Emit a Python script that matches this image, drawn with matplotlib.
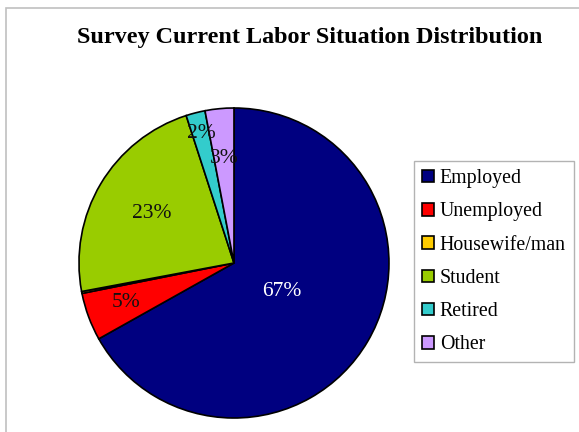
import matplotlib.pyplot as plt
import matplotlib.patches as mpatches
import numpy as np

plt.rcParams['font.family'] = ['Liberation Serif', 'DejaVu Serif']

# Share of respondents by labor situation (percent)
categories = ['Employed', 'Unemployed', 'Housewife/man', 'Student', 'Retired', 'Other']
shares = [67, 5, 0.2, 23, 2, 3]

colors = ['#000080', '#ff0000', '#ffcc00', '#99cc00', '#33cccc', '#cc99ff']
label_colors = ['white', '#111111', '#111111', '#111111', '#111111', '#111111']
label_dist = [0.36, 0.74, 0.7, 0.62, 0.86, 0.68]

fig = plt.figure(figsize=(5.79, 4.32), dpi=100)

# light grey chart-area border
fig.patches.append(mpatches.Rectangle((6 / 579, -0.1), 2, 1 - 8 / 432 + 0.1,
                                      transform=fig.transFigure, fill=False,
                                      edgecolor='#c0c0c0', linewidth=1.2))

ax = fig.add_axes([0.1364, 0.0324, 0.5354, 0.7176])
wedges, _ = ax.pie(shares, colors=colors, startangle=90, counterclock=False,
                   radius=1, wedgeprops=dict(edgecolor='black', linewidth=1.2))
ax.set_xlim(-1, 1)
ax.set_ylim(-1, 1)
ax.set_aspect('equal')
ax.axis('off')

for w, v, c, d in zip(wedges, shares, label_colors, label_dist):
    if v < 1:
        continue
    mid = np.deg2rad((w.theta1 + w.theta2) / 2)
    ax.text(d * np.cos(mid), d * np.sin(mid), f'{v:.0f}%', color=c,
            fontsize=15.5, ha='center', va='center')

fig.text(310 / 579, 1 - 37 / 432, 'Survey Current Labor Situation Distribution',
         ha='center', va='center', fontsize=17.4, fontweight='bold')

leg = fig.legend(wedges, categories, loc='upper left',
                 bbox_to_anchor=(414 / 579, 1 - 161 / 432),
                 frameon=True, fancybox=False, fontsize=14.3,
                 handlelength=0.6, handleheight=0.6, handletextpad=0.3,
                 labelspacing=0.72, borderpad=0.4, borderaxespad=0)
leg.get_frame().set_edgecolor('#a0a0a0')
leg.get_frame().set_linewidth(1.0)

fig.savefig('out.png', dpi=100)
